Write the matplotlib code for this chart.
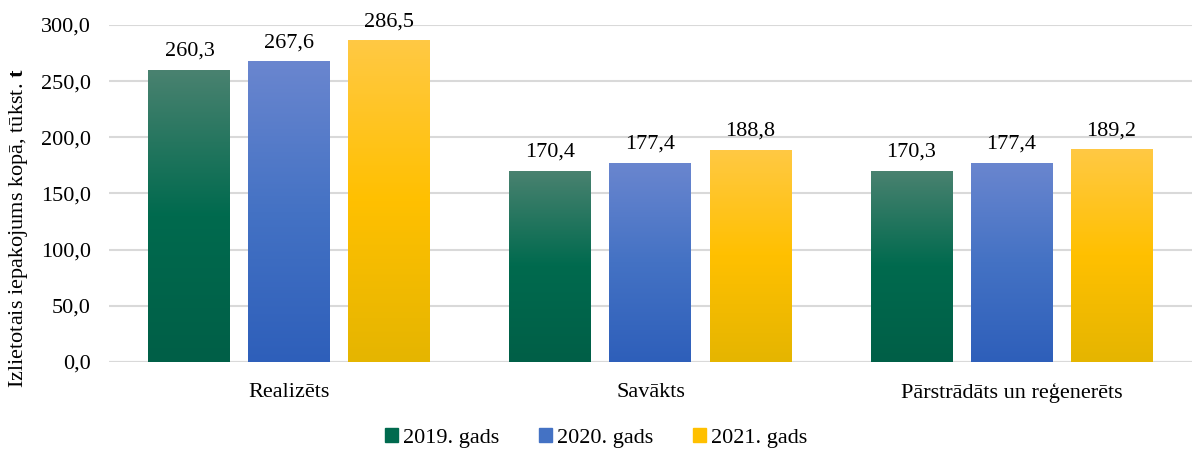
import numpy as np
import matplotlib.pyplot as plt
from matplotlib.colors import LinearSegmentedColormap
from matplotlib.patches import Patch

plt.rcParams['font.family'] = ['Liberation Serif', 'DejaVu Serif']
plt.rcParams['mathtext.fontset'] = 'custom'
plt.rcParams['mathtext.rm'] = 'Liberation Serif'
plt.rcParams['mathtext.bf'] = 'Liberation Serif:bold'

categories = ['Realizēts', 'Savākts', 'Pārstrādāts un reģenerēts']
years = ['2019. gads', '2020. gads', '2021. gads']
values_2019 = [260.3, 170.4, 170.3]
values_2020 = [267.6, 177.4, 177.4]
values_2021 = [286.5, 188.8, 189.2]
series = [values_2019, values_2020, values_2021]

# top / middle / bottom colours of the gradient fill
gradients = [
    ['#4a8270', '#006a4e', '#005f47'],
    ['#6a86cf', '#4472c4', '#2e5fba'],
    ['#ffc944', '#ffc000', '#e5b500'],
]
legend_colors = ['#006a4e', '#4472c4', '#ffc000']

fig = plt.figure(figsize=(11.92, 4.5), dpi=100)
ax = fig.add_axes([0.0914, 0.1956, 0.9086, 0.749])

x = np.arange(len(categories))
width = 0.227
offset = 0.277

for i, vals in enumerate(series):
    cmap = LinearSegmentedColormap.from_list('g%d' % i, gradients[i][::-1])
    bars = ax.bar(x + (i - 1) * offset, vals, width, color='none', zorder=2)
    for b, v in zip(bars, vals):
        x0, w = b.get_x(), b.get_width()
        grad = np.linspace(0, 1, 256).reshape(-1, 1)
        im = ax.imshow(grad, cmap=cmap, aspect='auto', origin='lower',
                       extent=[x0, x0 + w, 0, v], zorder=2)
        im.set_clip_path(b)
        ax.text(b.get_x() + w / 2, v + 8, ('%.1f' % v).replace('.', ','),
                ha='center', va='bottom', fontsize=16)

ax.set_xlim(-0.5, 2.5)
ax.set_ylim(0, 300)
ax.set_yticks(np.arange(0, 301, 50))
ax.set_yticklabels([('%.1f' % t).replace('.', ',') for t in np.arange(0, 301, 50)])
ax.set_xticks(x)
ax.set_xticklabels(categories)
ax.tick_params(axis='both', labelsize=16, length=0, pad=13)
ax.tick_params(axis='x', pad=15)
ax.grid(axis='y', color='#d9d9d9', linewidth=1.5, zorder=0)
ax.set_axisbelow(True)
for s in ax.spines.values():
    s.set_visible(False)
ax.axhline(0, color='#d9d9d9', linewidth=1.5, zorder=1)

# y axis title sits a bit below the axes centre in the original
fig.text(19 / 1192, 1 - 228 / 450, r'Izlietotais iepakojums kopā, tūkst. $\mathbf{t}$',
         rotation=90, ha='center', va='center', fontsize=16)

handles = [Patch(color=c, label=l) for c, l in zip(legend_colors, years)]
fig.legend(handles=handles, loc='lower center', bbox_to_anchor=(0.5, -0.04), ncol=3,
           frameon=False, fontsize=16, handlelength=0.6, handleheight=0.6,
           handletextpad=0.2, columnspacing=1.8)

fig.savefig('out.png', dpi=100)
